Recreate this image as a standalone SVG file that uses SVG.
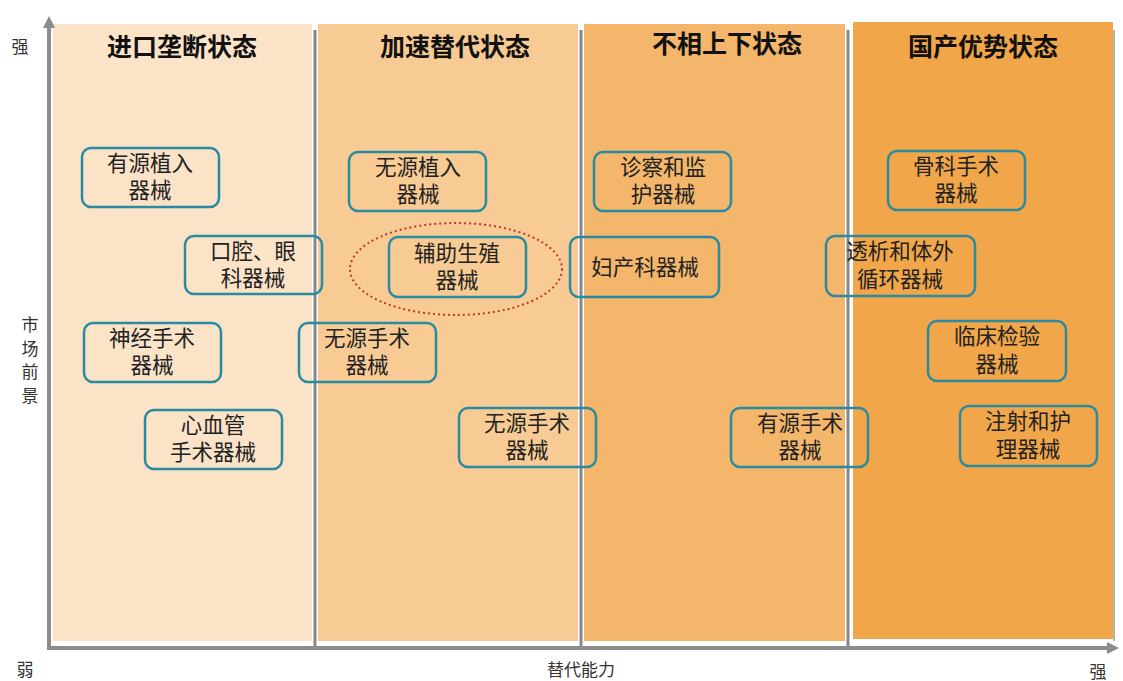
<svg xmlns="http://www.w3.org/2000/svg" width="1123" height="681" viewBox="0 0 1123 681">
<defs>
<style>
.t{font-family:"Liberation Sans","Noto Sans CJK SC",sans-serif;}
.title{font-size:25px;font-weight:bold;fill:#111;text-anchor:middle;}
.lbl{font-size:21.5px;fill:#222;text-anchor:middle;}
.ax{font-size:17px;fill:#333;text-anchor:middle;}
.box{fill:none;stroke:#2A8BA0;stroke-width:2.5;}
.div{stroke:#85878B;stroke-width:3;}
.axis{stroke:#8C8C8C;stroke-width:4;fill:none;}
</style>
<marker id="ah" viewBox="0 0 10 10" refX="5" refY="5" markerWidth="3" markerHeight="3" orient="auto">
<path d="M0,0 L10,5 L0,10 z" fill="#8C8C8C"/>
</marker>
</defs>
<rect width="1123" height="681" fill="#fff"/>
<g id="columns">
<rect x="53" y="24" width="259" height="617" fill="#FBE3C8"/>
<rect x="318" y="24" width="260" height="617" fill="#F7CB93"/>
<rect x="584" y="24" width="261" height="617" fill="#F3B66A"/>
<rect x="853" y="22" width="260" height="617" fill="#F1A64A"/>
<line x1="1114" y1="30" x2="1114" y2="641" stroke="#9A9A9A" stroke-width="1.5"/>
</g>
<g id="dividers">
<line class="div" x1="315" y1="30" x2="315" y2="648"/>
<line class="div" x1="581" y1="30" x2="581" y2="648"/>
<line class="div" x1="848" y1="30" x2="848" y2="648"/>
</g>
<g id="axes">
<line class="axis" x1="49" y1="649" x2="49" y2="22" marker-end="url(#ah)"/>
<line class="axis" x1="47" y1="648" x2="1113" y2="648" marker-end="url(#ah)"/>
</g>
<g id="titles">
<text class="t title" x="182" y="56">进口垄断状态</text>
<text class="t title" x="455" y="56">加速替代状态</text>
<text class="t title" x="727" y="53">不相上下状态</text>
<text class="t title" x="983" y="56">国产优势状态</text>
</g>
<g id="axis-labels">
<text class="t ax" x="20" y="53">强</text>
<text class="t ax" x="30" y="331">市</text>
<text class="t ax" x="30" y="355">场</text>
<text class="t ax" x="30" y="378">前</text>
<text class="t ax" x="30" y="402">景</text>
<text class="t ax" x="25" y="676">弱</text>
<text class="t ax" x="581" y="676">替代能力</text>
<text class="t ax" x="1098" y="678">强</text>
</g>
<g id="n1"><rect class="box" x="82" y="148" width="137" height="59" rx="9"/><text class="t lbl" x="150" y="171">有源植入</text><text class="t lbl" x="150" y="198">器械</text></g>
<g id="n2"><rect class="box" x="185" y="236" width="137" height="58" rx="9"/><text class="t lbl" x="253" y="259">口腔、眼</text><text class="t lbl" x="253" y="286">科器械</text></g>
<g id="n3"><rect class="box" x="84" y="323" width="137" height="59" rx="9"/><text class="t lbl" x="152" y="346">神经手术</text><text class="t lbl" x="152" y="373">器械</text></g>
<g id="n4"><rect class="box" x="145" y="410" width="137" height="59" rx="9"/><text class="t lbl" x="213" y="433">心血管</text><text class="t lbl" x="213" y="460">手术器械</text></g>
<g id="n5"><rect class="box" x="349" y="152" width="137" height="59" rx="9"/><text class="t lbl" x="418" y="175">无源植入</text><text class="t lbl" x="418" y="202">器械</text></g>
<g id="n6"><rect class="box" x="389" y="237" width="137" height="60" rx="9"/><text class="t lbl" x="457" y="261">辅助生殖</text><text class="t lbl" x="457" y="288">器械</text>
<ellipse cx="456" cy="269" rx="106" ry="46" fill="none" stroke="#C0392B" stroke-width="2" stroke-dasharray="2,3"/></g>
<g id="n7"><rect class="box" x="299" y="323" width="137" height="59" rx="9"/><text class="t lbl" x="367" y="346">无源手术</text><text class="t lbl" x="367" y="373">器械</text></g>
<g id="n8"><rect class="box" x="459" y="408" width="137" height="59" rx="9"/><text class="t lbl" x="527" y="431">无源手术</text><text class="t lbl" x="527" y="458">器械</text></g>
<g id="n9"><rect class="box" x="594" y="152" width="137" height="59" rx="9"/><text class="t lbl" x="663" y="175">诊察和监</text><text class="t lbl" x="663" y="202">护器械</text></g>
<g id="n10"><rect class="box" x="570" y="237" width="149" height="60" rx="9"/><text class="t lbl" x="645" y="275">妇产科器械</text></g>
<g id="n11"><rect class="box" x="731" y="408" width="137" height="59" rx="9"/><text class="t lbl" x="800" y="431">有源手术</text><text class="t lbl" x="800" y="458">器械</text></g>
<g id="n12"><rect class="box" x="888" y="151" width="137" height="59" rx="9"/><text class="t lbl" x="956" y="174">骨科手术</text><text class="t lbl" x="956" y="201">器械</text></g>
<g id="n13"><rect class="box" x="826" y="236" width="149" height="60" rx="9"/><text class="t lbl" x="900" y="259">透析和体外</text><text class="t lbl" x="900" y="287">循环器械</text></g>
<g id="n14"><rect class="box" x="928" y="321" width="138" height="60" rx="9"/><text class="t lbl" x="997" y="344">临床检验</text><text class="t lbl" x="997" y="372">器械</text></g>
<g id="n15"><rect class="box" x="960" y="406" width="137" height="60" rx="9"/><text class="t lbl" x="1028" y="429">注射和护</text><text class="t lbl" x="1028" y="457">理器械</text></g>
</svg>
